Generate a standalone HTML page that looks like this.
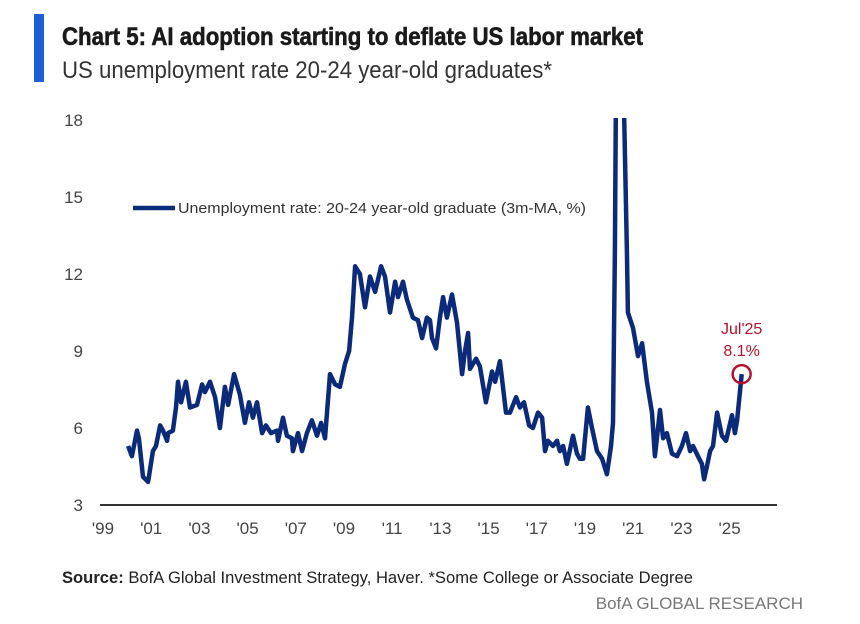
<!DOCTYPE html>
<html><head><meta charset="utf-8"><style>
body{margin:0;background:#fff;}
svg{display:block;font-family:"Liberation Sans Narrow","Liberation Sans",sans-serif;}
</style></head><body>
<svg width="860" height="624" viewBox="0 0 860 624">
<rect x="0" y="0" width="860" height="624" fill="#fff"/>
<rect x="34" y="14" width="10" height="68" fill="#1f5fd6"/>
<text x="62" y="45" font-size="25" font-weight="bold" fill="#1a1a1a" stroke="#1a1a1a" stroke-width="0.6" textLength="581" lengthAdjust="spacingAndGlyphs">Chart 5: AI adoption starting to deflate US labor market</text>
<text x="62" y="78" font-size="24" fill="#333" textLength="490" lengthAdjust="spacingAndGlyphs">US unemployment rate 20-24 year-old graduates*</text>
<g id="yaxis"></g>
<g id="xaxis"></g>
<line x1="100" y1="505" x2="777" y2="505" stroke="#333" stroke-width="2"/>
<clipPath id="pc"><rect x="90" y="118" width="700" height="400"/></clipPath>
<g clip-path="url(#pc)"><path id="series" fill="none" stroke="#0b2a7a" stroke-width="4.5" stroke-linejoin="round"/></g>
<line x1="133" y1="208" x2="175" y2="208" stroke="#0b2a7a" stroke-width="4.5"/>
<text x="178" y="213" font-size="15" fill="#333" textLength="408" lengthAdjust="spacingAndGlyphs">Unemployment rate: 20-24 year-old graduate (3m-MA, %)</text>
<circle id="hl" r="9" fill="none" stroke="#b3122e" stroke-width="2.5"/>
<text id="hl1" font-size="16" fill="#b3122e" text-anchor="middle">Jul'25</text>
<text id="hl2" font-size="16" fill="#b3122e" text-anchor="middle">8.1%</text>
<text x="62" y="583" font-size="16.5" fill="#222" textLength="631" lengthAdjust="spacingAndGlyphs"><tspan font-weight="bold">Source:</tspan> BofA Global Investment Strategy, Haver. *Some College or Associate Degree</text>
<text x="803" y="609" font-size="17" fill="#777" text-anchor="end">BofA GLOBAL RESEARCH</text>
</svg>
<script>
const dates=[2000.04,2000.20,2000.41,2000.49,2000.66,2000.87,2001.07,2001.20,2001.37,2001.49,2001.66,2001.70,2001.90,2002.03,2002.11,2002.24,2002.44,2002.61,2002.90,2003.11,2003.23,2003.44,2003.65,2003.85,2004.06,2004.19,2004.44,2004.68,2004.89,2005.06,2005.22,2005.39,2005.60,2005.76,2005.97,2006.22,2006.26,2006.47,2006.63,2006.84,2006.88,2007.09,2007.26,2007.46,2007.67,2007.88,2008.05,2008.21,2008.42,2008.63,2008.83,2009.04,2009.21,2009.33,2009.46,2009.66,2009.87,2010.08,2010.29,2010.54,2010.70,2010.91,2011.12,2011.24,2011.45,2011.61,2011.86,2012.07,2012.24,2012.44,2012.57,2012.65,2012.82,2012.98,2013.11,2013.27,2013.48,2013.69,2013.90,2014.02,2014.15,2014.23,2014.48,2014.64,2014.89,2015.14,2015.27,2015.47,2015.72,2015.89,2016.14,2016.30,2016.47,2016.68,2016.84,2017.05,2017.22,2017.34,2017.46,2017.67,2017.84,2017.96,2018.09,2018.25,2018.50,2018.67,2018.79,2018.92,2019.12,2019.29,2019.50,2019.71,2019.91,2020.08,2020.16,2020.24,2020.33,2020.50,2020.74,2020.78,2020.99,2021.20,2021.37,2021.57,2021.78,2021.90,2022.11,2022.24,2022.40,2022.61,2022.82,2023.02,2023.19,2023.36,2023.48,2023.69,2023.85,2023.94,2024.06,2024.19,2024.31,2024.48,2024.68,2024.85,2025.10,2025.22,2025.31,2025.50];
const rates=[5.3,4.9,5.9,5.6,4.1,3.9,5.1,5.3,6.1,5.9,5.5,5.8,5.9,6.8,7.8,7.0,7.8,6.8,6.9,7.7,7.4,7.8,7.2,6.0,7.6,6.9,8.1,7.3,6.2,7.0,6.4,7.0,5.8,6.1,5.8,5.9,5.5,6.4,5.7,5.6,5.1,5.8,5.1,5.8,6.3,5.7,6.2,5.6,8.1,7.7,7.6,8.5,9.0,10.3,12.3,12.0,10.7,11.9,11.3,12.3,11.9,10.5,11.7,11.1,11.7,11.0,10.3,10.2,9.5,10.3,10.2,9.5,9.1,10.3,11.1,10.3,11.2,10.1,8.1,9.0,9.7,8.3,8.7,8.4,7.0,8.2,7.8,8.6,6.6,6.6,7.2,6.8,7.0,6.1,6.0,6.6,6.4,5.1,5.5,5.3,5.5,5.1,5.3,4.6,5.7,5.0,4.8,4.8,6.8,6.0,5.1,4.8,4.2,5.3,6.2,12.9,26.0,24.0,12.9,10.5,9.9,8.8,9.3,7.8,6.6,4.9,6.7,5.6,5.8,5.0,4.9,5.3,5.8,5.1,5.3,4.9,4.6,4.0,4.5,5.1,5.3,6.6,5.7,5.5,6.5,5.8,6.3,8.1];
const yTicks=[3,6,9,12,15,18];
const xTickYears=[1999,2001,2003,2005,2007,2009,2011,2013,2015,2017,2019,2021,2023,2025];
const xTickLabels=["'99","'01","'03","'05","'07","'09","'11","'13","'15","'17","'19","'21","'23","'25"];
const NS="http://www.w3.org/2000/svg";
function xs(t){return 103+(t-1999)*24.1;}
function ys(v){return 505-(v-3)*25.67;}
const ya=document.getElementById('yaxis');
yTicks.forEach(v=>{const t=document.createElementNS(NS,'text');


t.setAttribute('x',83);t.setAttribute('y',ys(v)+6);t.setAttribute('text-anchor','end');
t.setAttribute('font-size','17');t.setAttribute('fill','#444');t.textContent=v;ya.appendChild(t);});
const xa=document.getElementById('xaxis');
xTickYears.forEach((y,i)=>{const t=document.createElementNS(NS,'text');


t.setAttribute('x',xs(y));t.setAttribute('y',534);t.setAttribute('text-anchor','middle');
t.setAttribute('font-size','17');t.setAttribute('fill','#444');t.textContent=xTickLabels[i];xa.appendChild(t);});
let d='';dates.forEach((t,i)=>{d+=(i?'L':'M')+xs(t).toFixed(1)+','+ys(rates[i]).toFixed(1);});
document.getElementById('series').setAttribute('d',d);
const n=dates.length-1,cx=xs(dates[n]),cy=ys(rates[n]);
const c=document.getElementById('hl');c.setAttribute('cx',cx);c.setAttribute('cy',cy);
const a1=document.getElementById('hl1');a1.setAttribute('x',cx);a1.setAttribute('y',cy-40);
const a2=document.getElementById('hl2');a2.setAttribute('x',cx);a2.setAttribute('y',cy-18);
</script>
</body></html>
